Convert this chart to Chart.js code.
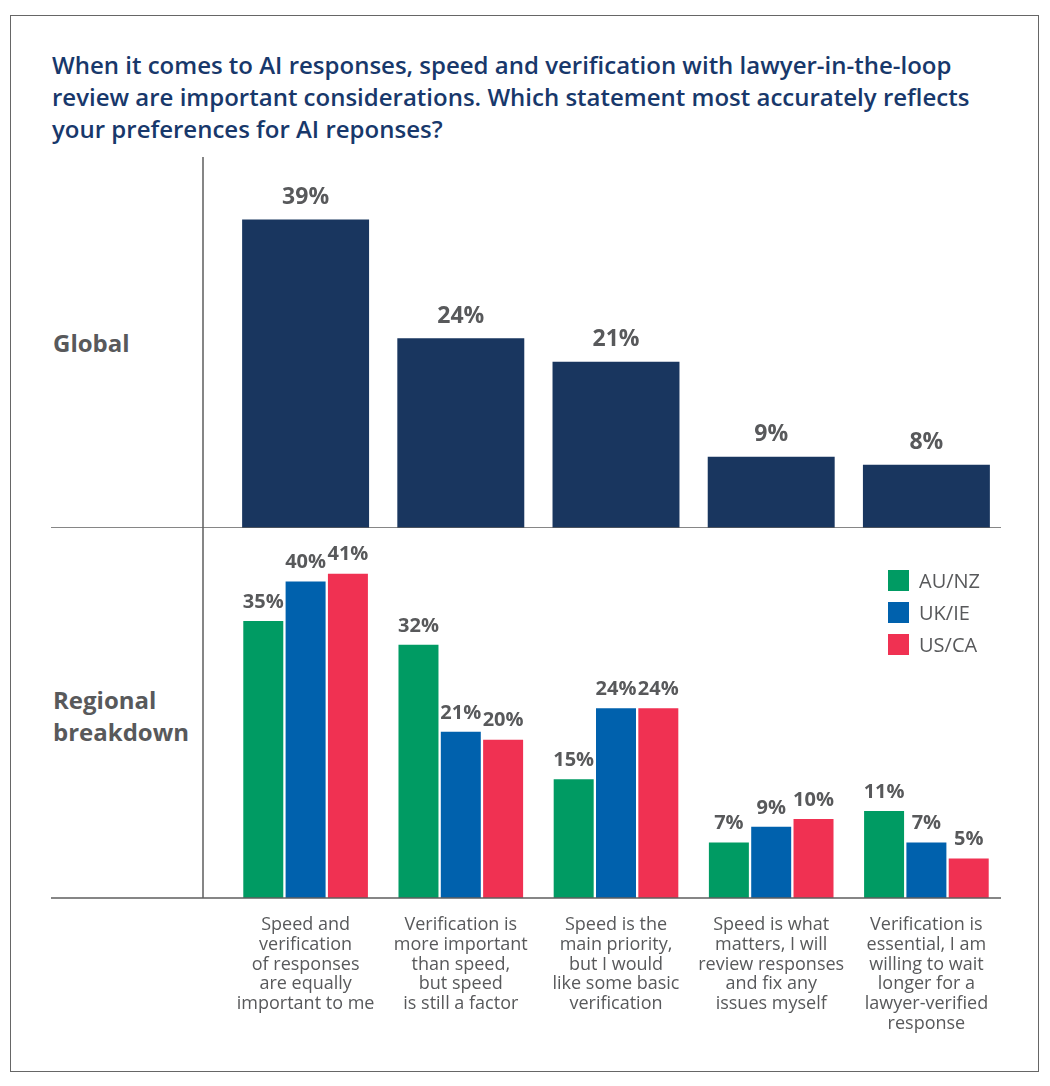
<!DOCTYPE html>
<html>
<head>
<meta charset="utf-8">
<script src="https://cdn.jsdelivr.net/npm/chart.js@4.4.1/dist/chart.umd.min.js"></script>
<style>
  body { margin: 0; background: #fff; font-family: "Open Sans", "Noto Sans", sans-serif; }
  #page { position: relative; width: 1050px; height: 1086px; }
  #frame { position: absolute; left: 10px; top: 15px; width: 1029px; height: 1057px; border: 1.5px solid #666; box-sizing: border-box; }
  #title { position: absolute; left: 52px; top: 49px; font-size: 24px; font-weight: 600; line-height: 32px; color: #18386b; white-space: nowrap; }
  .rowLabel { position: absolute; left: 53px; font-size: 24px; font-weight: 700; line-height: 32px; color: #58595b; white-space: nowrap; }
  canvas { position: absolute; left: 0; }
  #legend { position: absolute; left: 888px; top: 570px; }
  .legItem { display: flex; align-items: center; height: 21px; margin-bottom: 11px; font-size: 20px; color: #58595b; }
  .legBox { width: 21px; height: 21px; margin-right: 10px; }
</style>
</head>
<body>
<div id="page">
  <div id="frame"></div>
  <div id="title">When it comes to AI responses, speed and verification with lawyer-in-the-loop<br>review are important considerations. Which statement most accurately reflects<br>your preferences for AI reponses?</div>
  <div class="rowLabel" style="top:327px">Global</div>
  <div class="rowLabel" style="top:684px">Regional<br>breakdown</div>
  <canvas id="globalChart" width="1050" height="378" style="top:150px"></canvas>
  <canvas id="regionalChart" width="1050" height="510" style="top:528px"></canvas>
  <div id="legend"></div>
</div>
<script>
// data
const categories = [
  ["Speed and", "verification", "of responses", "are equally", "important to me"],
  ["Verification is", "more important", "than speed,", "but speed", "is still a factor"],
  ["Speed is the", "main priority,", "but I would", "like some basic", "verification"],
  ["Speed is what", "matters, I will", "review responses", "and fix any", "issues myself"],
  ["Verification is", "essential, I am", "willing to wait", "longer for a", "lawyer-verified", "response"],
];
const globalValues = [39, 24, 21, 9, 8];
const regions = ["AU/NZ", "UK/IE", "US/CA"];
const auNzValues = [35, 32, 15, 7, 11];
const ukIeValues = [40, 21, 24, 9, 7];
const usCaValues = [41, 20, 24, 10, 5];

const navy = "#19365f";
const regionColors = ["#009b63", "#0061ad", "#f03152"];
const textGray = "#58595b";
const lineGray = "#5f5f5f";

// value labels above bars
const valueLabels = {
  id: "valueLabels",
  afterDatasetsDraw(chart, args, opts) {
    const ctx = chart.ctx;
    ctx.save();
    ctx.font = "bold " + opts.size + "px 'Open Sans', sans-serif";
    ctx.fillStyle = textGray;
    ctx.textAlign = "center";
    ctx.textBaseline = "middle";
    chart.data.datasets.forEach((ds, i) => {
      chart.getDatasetMeta(i).data.forEach((bar, j) => {
        ctx.fillText(ds.data[j] + "%", bar.x, bar.y - opts.offset);
      });
    });
    ctx.restore();
  },
};

// divider lines
const dividers = {
  id: "dividers",
  afterDraw(chart, args, opts) {
    const ctx = chart.ctx;
    const bottom = chart.chartArea.bottom;
    ctx.save();
    ctx.strokeStyle = lineGray;
    ctx.lineWidth = 1.5;
    ctx.beginPath();
    ctx.moveTo(51, bottom);
    ctx.lineTo(1001, bottom);
    ctx.moveTo(203, opts.vTop);
    ctx.lineTo(203, bottom);
    ctx.stroke();
    ctx.restore();
  },
};

Chart.defaults.font.family = "'Open Sans', sans-serif";
Chart.defaults.color = textGray;

// Global chart
new Chart(document.getElementById("globalChart"), {
  type: "bar",
  data: {
    labels: categories,
    datasets: [
      {
        data: globalValues,
        backgroundColor: navy,
        barPercentage: 0.818,
        categoryPercentage: 1,
      },
    ],
  },
  options: {
    responsive: false,
    animation: false,
    layout: { padding: { left: 228, right: 46, top: 22, bottom: 0 } },
    plugins: {
      legend: { display: false },
      tooltip: { enabled: false },
      valueLabels: { size: 23, offset: 22 },
      dividers: { vTop: 7 },
    },
    scales: {
      x: { display: false },
      y: { display: false, min: 0, max: 45 },
    },
  },
  plugins: [valueLabels, dividers],
});

// Regional chart
const regionalData = [auNzValues, ukIeValues, usCaValues];
new Chart(document.getElementById("regionalChart"), {
  type: "bar",
  data: {
    labels: categories,
    datasets: regions.map((name, i) => ({
      label: name,
      data: regionalData[i],
      backgroundColor: regionColors[i],
      barPercentage: 0.945,
      categoryPercentage: 0.818,
    })),
  },
  options: {
    responsive: false,
    animation: false,
    layout: { padding: { left: 228, right: 46, top: 14, bottom: 0 } },
    plugins: {
      legend: { display: false },
      tooltip: { enabled: false },
      valueLabels: { size: 20, offset: 19 },
      dividers: { vTop: 0 },
    },
    scales: {
      x: {
        grid: { display: false, drawTicks: false },
        border: { display: false },
        ticks: {
          autoSkip: false,
          maxRotation: 0,
          padding: 17,
          color: textGray,
          font: { size: 18, lineHeight: 1.1 },
        },
        afterFit(scale) {
          scale.height = 140;
        },
      },
      y: { display: false, min: 0, max: 45 },
    },
  },
  plugins: [valueLabels, dividers],
});

// legend
const legendEl = document.getElementById("legend");
regions.forEach((name, i) => {
  const item = document.createElement("div");
  item.className = "legItem";
  item.innerHTML = '<span class="legBox" style="background:' + regionColors[i] + '"></span>' + name;
  legendEl.appendChild(item);
});
</script>
</body>
</html>
